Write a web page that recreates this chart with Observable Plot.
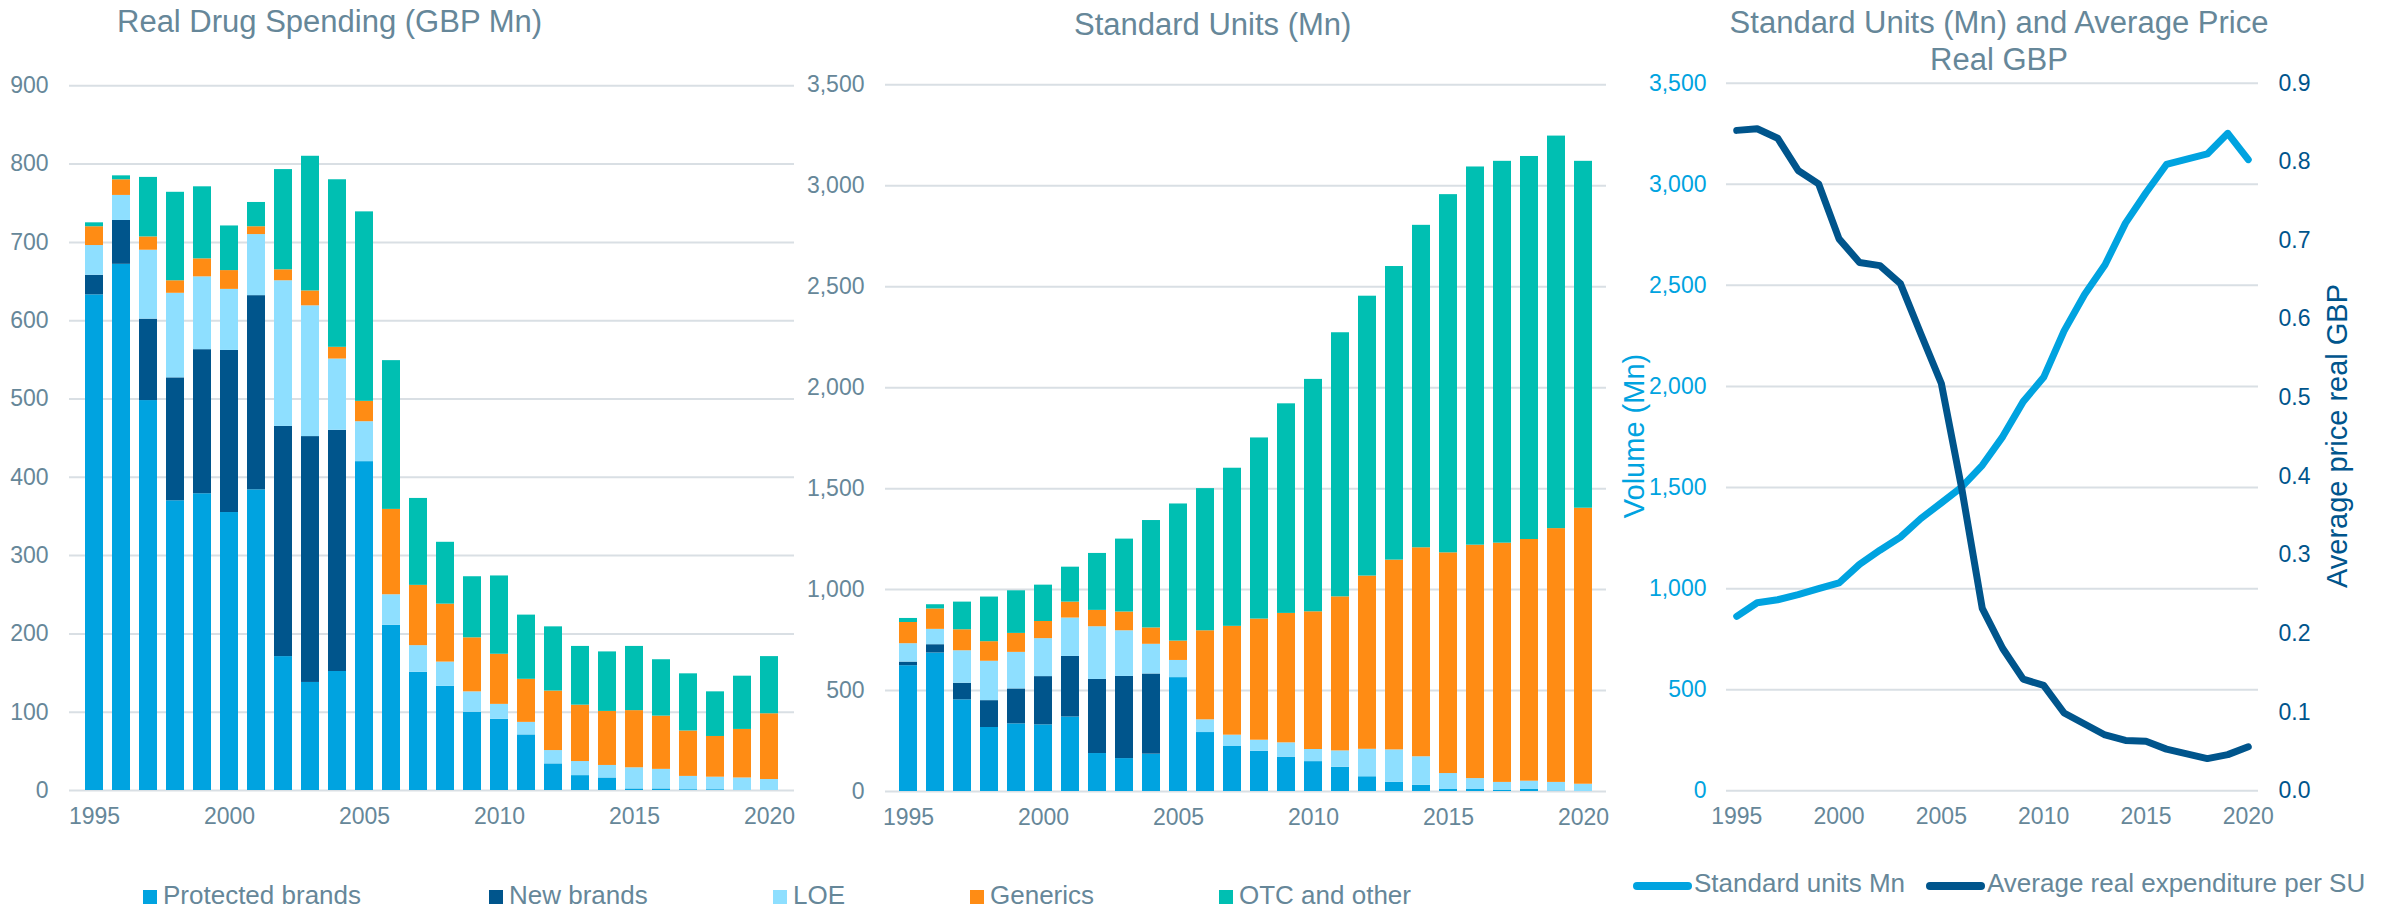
<!DOCTYPE html>
<html>
<head>
<meta charset="utf-8">
<script src="https://cdn.jsdelivr.net/npm/d3@7"></script>
<script src="https://cdn.jsdelivr.net/npm/@observablehq/plot@0.6"></script>
<style>
  html, body { margin: 0; padding: 0; background: #fff; }
  #wrap { position: relative; width: 2382px; height: 914px; overflow: hidden; font-family: "Liberation Sans", Arial, sans-serif; color: #668799; }
  #wrap svg { position: absolute; left: 0; top: 0; }
  .title { position: absolute; font-size: 31px; line-height: 31px; white-space: nowrap; color: #668799; }
  .ytitle { position: absolute; font-size: 29px; line-height: 29px; white-space: nowrap; transform: translate(-50%, -50%) rotate(-90deg); }
  .leg { position: absolute; display: flex; align-items: flex-end; font-size: 26px; line-height: 26px; white-space: nowrap; color: #668799; }
  .leg .sq { width: 14px; height: 14px; margin-right: 6px; margin-bottom: 4px; flex: none; }
  .leg .ln { width: 59px; height: 8px; border-radius: 4px; margin-right: 2px; margin-bottom: 6px; flex: none; }
</style>
</head>
<body>
<div id="wrap"></div>
<script>
// ---------- data ----------
const years = [1995,1996,1997,1998,1999,2000,2001,2002,2003,2004,2005,2006,2007,2008,2009,2010,2011,2012,2013,2014,2015,2016,2017,2018,2019,2020];
const yearTicks = [1995, 2000, 2005, 2010, 2015, 2020];
const series = ["Protected brands", "New brands", "LOE", "Generics", "OTC and other"];
const seriesColors = ["#00A3E0", "#00558C", "#8EDFFF", "#FF8C14", "#00BFB2"];

// Real Drug Spending (GBP Mn)
const spendProtected = [633,672,498,370,379,355,384,171,138,152,420,211,151,133,100,91,71,34,19,16,2,2,1,1,0,0];
const spendNew       = [25,56,104,157,184,207,248,294,314,308,0,0,0,0,0,0,0,0,0,0,0,0,0,0,0,0];
const spendLOE       = [38,32,88,108,93,78,78,186,167,91,51,39,34,31,26,19,16,17,18,16,27,25,17,16,16,14];
const spendGenerics  = [24,20,17,16,23,24,10,14,19,15,26,109,77,74,69,64,55,76,72,69,73,68,58,52,62,84];
const spendOTC       = [5,5,76,113,92,57,31,128,172,214,242,190,111,79,78,100,82,82,75,76,82,72,73,57,68,73];

// Standard Units (Mn)
const unitsProtected = [623,686,454,317,335,330,369,188,163,185,564,292,223,199,170,148,120,73,46,31,10,10,5,10,2,0];
const unitsNew       = [18,41,82,133,173,239,300,367,407,397,0,0,0,0,0,0,0,0,0,0,0,0,0,0,0,0];
const unitsLOE       = [91,76,161,195,181,188,190,261,226,147,85,63,56,55,71,60,81,136,160,141,79,54,40,41,43,36];
const unitsGenerics  = [105,101,104,97,94,85,79,81,93,81,96,441,539,600,641,682,763,858,940,1035,1093,1156,1185,1197,1257,1367];
const unitsOTC       = [20,21,137,221,211,180,173,282,361,532,679,704,783,897,1038,1151,1308,1386,1454,1597,1774,1873,1891,1897,1944,1718];

// Standard units and average price
const standardUnits = [863,930,945,970,1000,1028,1120,1190,1255,1347,1424,1503,1610,1752,1925,2045,2275,2455,2602,2808,2958,3098,3125,3150,3252,3122];
const avgPrice      = [0.840,0.842,0.830,0.789,0.772,0.702,0.672,0.668,0.645,0.581,0.518,0.384,0.232,0.181,0.142,0.134,0.099,0.085,0.071,0.064,0.063,0.053,0.047,0.041,0.046,0.056];

const lineSeries = ["Standard units Mn", "Average real expenditure per SU"];
const lineColors = ["#00A3E0", "#00558C"];

// ---------- layout ----------
const W = 2382, H = 914;
const textColor = "#668799";
const gridColor = "#D9DFE4";
const baseStyle = {fontFamily: "'Liberation Sans', Arial, sans-serif", fontSize: "23px", color: textColor, background: "none", overflow: "visible"};
const wrap = document.getElementById("wrap");

function toRows(arrs) {
  const rows = [];
  years.forEach((y, i) => arrs.forEach((a, k) => rows.push({year: y, series: series[k], value: a[i]})));
  return rows;
}
const spendRows = toRows([spendProtected, spendNew, spendLOE, spendGenerics, spendOTC]);
const unitRows = toRows([unitsProtected, unitsNew, unitsLOE, unitsGenerics, unitsOTC]);

function barPanel(rows, left, right, top, bottom, yMax, yStep, fmt) {
  const ticks = d3.range(0, yMax + 1, yStep);
  return Plot.plot({
    width: W, height: H,
    marginLeft: left, marginRight: W - right, marginTop: top, marginBottom: H - bottom,
    style: baseStyle,
    x: {type: "band", domain: years, paddingInner: 0.34, paddingOuter: 0.17},
    y: {domain: [0, yMax]},
    color: {domain: series, range: seriesColors},
    marks: [
      Plot.gridY({ticks, stroke: gridColor, strokeOpacity: 1, strokeWidth: 2}),
      Plot.barY(rows, {x: "year", y: "value", fill: "series"}),
      Plot.axisY({ticks, tickSize: 0, tickPadding: 21, label: null, tickFormat: fmt}),
      Plot.axisX({ticks: yearTicks, tickSize: 0, tickPadding: 17, label: null, tickFormat: d => String(d)})
    ]
  });
}

wrap.appendChild(barPanel(spendRows, 69, 794, 85.3, 790, 900, 100, d3.format("d")));
wrap.appendChild(barPanel(unitRows, 885, 1606, 84.3, 791, 3500, 500, d3.format(",")));

// Panel 3: standard units (left axis)
const suRows = years.map((y, i) => ({year: y, value: standardUnits[i]}));
const prRows = years.map((y, i) => ({year: y, value: avgPrice[i]}));
const p3 = {marginLeft: 1726, marginRight: W - 2258, marginTop: 82.7, marginBottom: H - 790.3};
const xDom = [1994.5, 2020.5];

wrap.appendChild(Plot.plot({
  width: W, height: H, ...p3, style: baseStyle,
  x: {domain: xDom},
  y: {domain: [0, 3500]},
  marks: [
    Plot.gridY({ticks: d3.range(0, 3501, 500), stroke: gridColor, strokeOpacity: 1, strokeWidth: 2}),
    Plot.line(suRows, {x: "year", y: "value", stroke: lineColors[0], strokeWidth: 7, strokeLinejoin: "round", strokeLinecap: "round"}),
    Plot.axisY({ticks: d3.range(0, 3501, 500), tickSize: 0, tickPadding: 20, label: null, tickFormat: d3.format(","), color: lineColors[0]}),
    Plot.axisX({ticks: yearTicks, tickSize: 0, tickPadding: 17, label: null, tickFormat: d => String(d)})
  ]
}));

// Panel 3 overlay: average price (right axis)
wrap.appendChild(Plot.plot({
  width: W, height: H, ...p3, style: baseStyle,
  x: {domain: xDom, axis: null},
  y: {domain: [0, 0.9]},
  marks: [
    Plot.line(prRows, {x: "year", y: "value", stroke: lineColors[1], strokeWidth: 7, strokeLinejoin: "round", strokeLinecap: "round"}),
    Plot.axisY({anchor: "right", ticks: d3.range(0, 10).map(k => k / 10), tickSize: 0, tickPadding: 20, label: null, tickFormat: d3.format(".1f"), color: lineColors[1]})
  ]
}));

// ---------- titles ----------
function addDiv(cls, text, css) {
  const d = document.createElement("div");
  d.className = cls;
  d.textContent = text;
  Object.assign(d.style, css);
  wrap.appendChild(d);
  return d;
}
addDiv("title", "Real Drug Spending (GBP Mn)", {left: "117px", top: "6px"});
addDiv("title", "Standard Units (Mn)", {left: "1074px", top: "9px"});
const t3 = addDiv("title", "", {left: "1999px", top: "4px", transform: "translateX(-50%)", textAlign: "center", lineHeight: "37px"});
t3.innerHTML = "Standard Units (Mn) and Average Price<br>Real GBP";

addDiv("ytitle", "Volume (Mn)", {left: "1634px", top: "436px", color: lineColors[0]});
addDiv("ytitle", "Average price real GBP", {left: "2337px", top: "436px", color: lineColors[1]});

// ---------- legends ----------
const legX = [143, 489, 773, 970, 1219];
series.forEach((s, k) => {
  const item = document.createElement("div");
  item.className = "leg";
  item.style.left = legX[k] + "px";
  item.style.top = "882px";
  const sq = document.createElement("span");
  sq.className = "sq";
  sq.style.background = seriesColors[k];
  const tx = document.createElement("span");
  tx.textContent = s;
  item.appendChild(sq); item.appendChild(tx);
  wrap.appendChild(item);
});
const lineLegX = [1633, 1926];
lineSeries.forEach((s, k) => {
  const item = document.createElement("div");
  item.className = "leg";
  item.style.left = lineLegX[k] + "px";
  item.style.top = "870px";
  const ln = document.createElement("span");
  ln.className = "ln";
  ln.style.background = lineColors[k];
  const tx = document.createElement("span");
  tx.textContent = s;
  item.appendChild(ln); item.appendChild(tx);
  wrap.appendChild(item);
});
</script>
</body>
</html>
